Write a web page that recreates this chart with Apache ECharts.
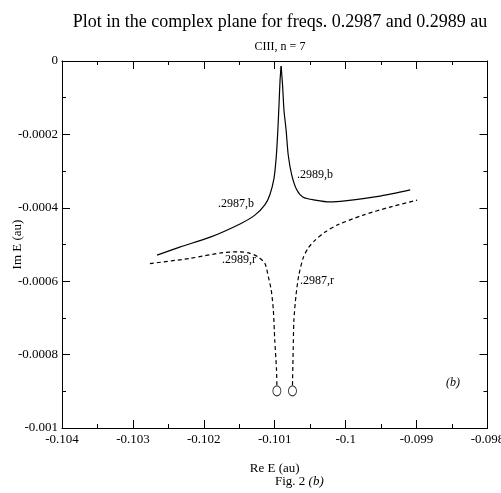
<!DOCTYPE html>
<html><head><meta charset="utf-8">
<script src="https://cdn.jsdelivr.net/npm/echarts@6/dist/echarts.min.js"></script>
<style>html,body{margin:0;padding:0;background:#fff}#c{width:501px;height:493px}</style>
</head><body><div id="c"></div>
<script>
const xTickLabels = ['-0.104','-0.103','-0.102','-0.101','-0.1','-0.099','-0.098'];
const yTickLabels = ['-0.001','-0.0008','-0.0006','-0.0004','-0.0002','0'];
const b2987X = [-0.10266,-0.10234,-0.10191,-0.10149,-0.10128,-0.10114,-0.10107,-0.10101,-0.10098,-0.10096,-0.10094,-0.100925,-0.10091];
const b2987Y = [-0.000529,-0.000507,-0.000480,-0.000444,-0.000420,-0.000392,-0.000365,-0.000319,-0.000264,-0.000202,-0.000120,-0.000052,-0.000014];
const b2989X = [-0.10091,-0.10089,-0.10087,-0.10084,-0.10081,-0.10076,-0.10069,-0.10060,-0.10043,-0.10022,-0.10001,-0.099515,-0.09909];
const b2989Y = [-0.000014,-0.000065,-0.000134,-0.000188,-0.000256,-0.000311,-0.000351,-0.000371,-0.000379,-0.000384,-0.000381,-0.000368,-0.000351];
const r2989X = [-0.10276,-0.10220,-0.10173,-0.10149,-0.10135,-0.10124,-0.10114,-0.10109,-0.10105,-0.10102,-0.10100,-0.100975,-0.10097];
const r2989Y = [-0.000552,-0.000538,-0.000522,-0.000520,-0.000524,-0.000533,-0.000551,-0.000588,-0.000624,-0.000678,-0.000760,-0.000842,-0.000883];
const r2987X = [-0.10075,-0.10074,-0.10073,-0.10070,-0.10066,-0.10060,-0.10053,-0.10043,-0.10029,-0.10012,-0.099755,-0.099374,-0.098993];
const r2987Y = [-0.000883,-0.000787,-0.000706,-0.000638,-0.000583,-0.000537,-0.000510,-0.000488,-0.000466,-0.000447,-0.000420,-0.000398,-0.000379];
const circleX = [-0.10097,-0.10075];
const circleY = [-0.000899,-0.000899];

const zip = (xs, ys) => xs.map((x, i) => [x, ys[i]]);
const FONT = '"Liberation Serif","Times New Roman",serif';
const chart = echarts.init(document.getElementById('c'), null, {renderer:'canvas'});
const xMin = -0.104, xStep = 0.001, yMin = -0.001, yStep = 0.0002;
const axisCommon = {
  axisLine:{show:true,onZero:false,lineStyle:{color:'#000',width:1}},
  axisTick:{show:true,inside:true,length:8,lineStyle:{color:'#000',width:1}},
  minorTick:{show:true,splitNumber:2,length:4,lineStyle:{color:'#000',width:1}},
  splitLine:{show:false}
};
const lineSeries = (name, xs, ys, type) => ({
  name, type:'line', data: zip(xs, ys), showSymbol:false, smooth:0.25,
  lineStyle:{color:'#000', width:1.2, type: type}, silent:true, animation:false
});
chart.setOption({
  animation:false,
  backgroundColor:'#fff',
  title:[
    {text:'Plot in the complex plane for freqs. 0.2987 and 0.2989 au', left:275, top:8, textAlign:'center',
     textStyle:{fontFamily:FONT,fontSize:18,fontWeight:'normal',color:'#000'}},
    {text:'CIII, n = 7', left:275, top:36, textAlign:'center',
     textStyle:{fontFamily:FONT,fontSize:12,fontWeight:'normal',color:'#000'}}
  ],
  grid:{left:62,right:13.5,top:61,bottom:65,containLabel:false,outerBoundsMode:'none'},
  xAxis:[
    Object.assign({type:'value',min:xMin,max:-0.098,interval:xStep,position:'bottom',
      name:'Re E (au)',nameLocation:'middle',nameGap:34,nameMoveOverlap:false,
      nameTextStyle:{fontFamily:FONT,fontSize:13,color:'#000'},
      axisLabel:{fontFamily:FONT,fontSize:13,color:'#000',margin:5,
        formatter:v=>xTickLabels[Math.round((v-xMin)/xStep)]}}, axisCommon),
    Object.assign({type:'value',min:xMin,max:-0.098,interval:xStep,position:'top',axisLabel:{show:false}}, axisCommon)
  ],
  yAxis:[
    Object.assign({type:'value',min:yMin,max:0,interval:yStep,position:'left',
      name:'Im E (au)',nameLocation:'middle',nameGap:38,nameRotate:90,nameMoveOverlap:false,
      nameTextStyle:{fontFamily:FONT,fontSize:13,color:'#000'},
      axisLabel:{fontFamily:FONT,fontSize:13,color:'#000',margin:4,
        formatter:v=>yTickLabels[Math.round((v-yMin)/yStep)]}}, axisCommon),
    Object.assign({type:'value',min:yMin,max:0,interval:yStep,position:'right',axisLabel:{show:false}}, axisCommon)
  ],
  series:[
    lineSeries('.2987,b', b2987X, b2987Y, 'solid'),
    lineSeries('.2989,b', b2989X, b2989Y, 'solid'),
    lineSeries('.2989,r', r2989X, r2989Y, [4,3]),
    lineSeries('.2987,r', r2987X, r2987Y, [4,3]),
    {type:'scatter', data: zip(circleX, circleY), symbol:'circle', symbolSize:[8,10],
     itemStyle:{color:'rgba(0,0,0,0)',borderColor:'#000',borderWidth:1}, silent:true}
  ],
  graphic:[
    {type:'text',left:218,top:198,style:{text:'.2987,b',font:'12px '+FONT,fill:'#000'}},
    {type:'text',left:297,top:169,style:{text:'.2989,b',font:'12px '+FONT,fill:'#000'}},
    {type:'text',left:222,top:254,style:{text:'.2989,r',font:'12px '+FONT,fill:'#000'}},
    {type:'text',left:300,top:275,style:{text:'.2987,r',font:'12px '+FONT,fill:'#000'}},
    {type:'text',left:446,top:377,style:{text:'(b)',font:'italic 12px '+FONT,fill:'#000'}},
    {type:'text',left:275,top:475,style:{text:'Fig. 2 {i|(b)}',textAlign:'center',font:'13px '+FONT,fill:'#000',
      rich:{i:{fontStyle:'italic',fontFamily:FONT,fontSize:13,fill:'#000'}}}}
  ]
});
</script></body></html>
